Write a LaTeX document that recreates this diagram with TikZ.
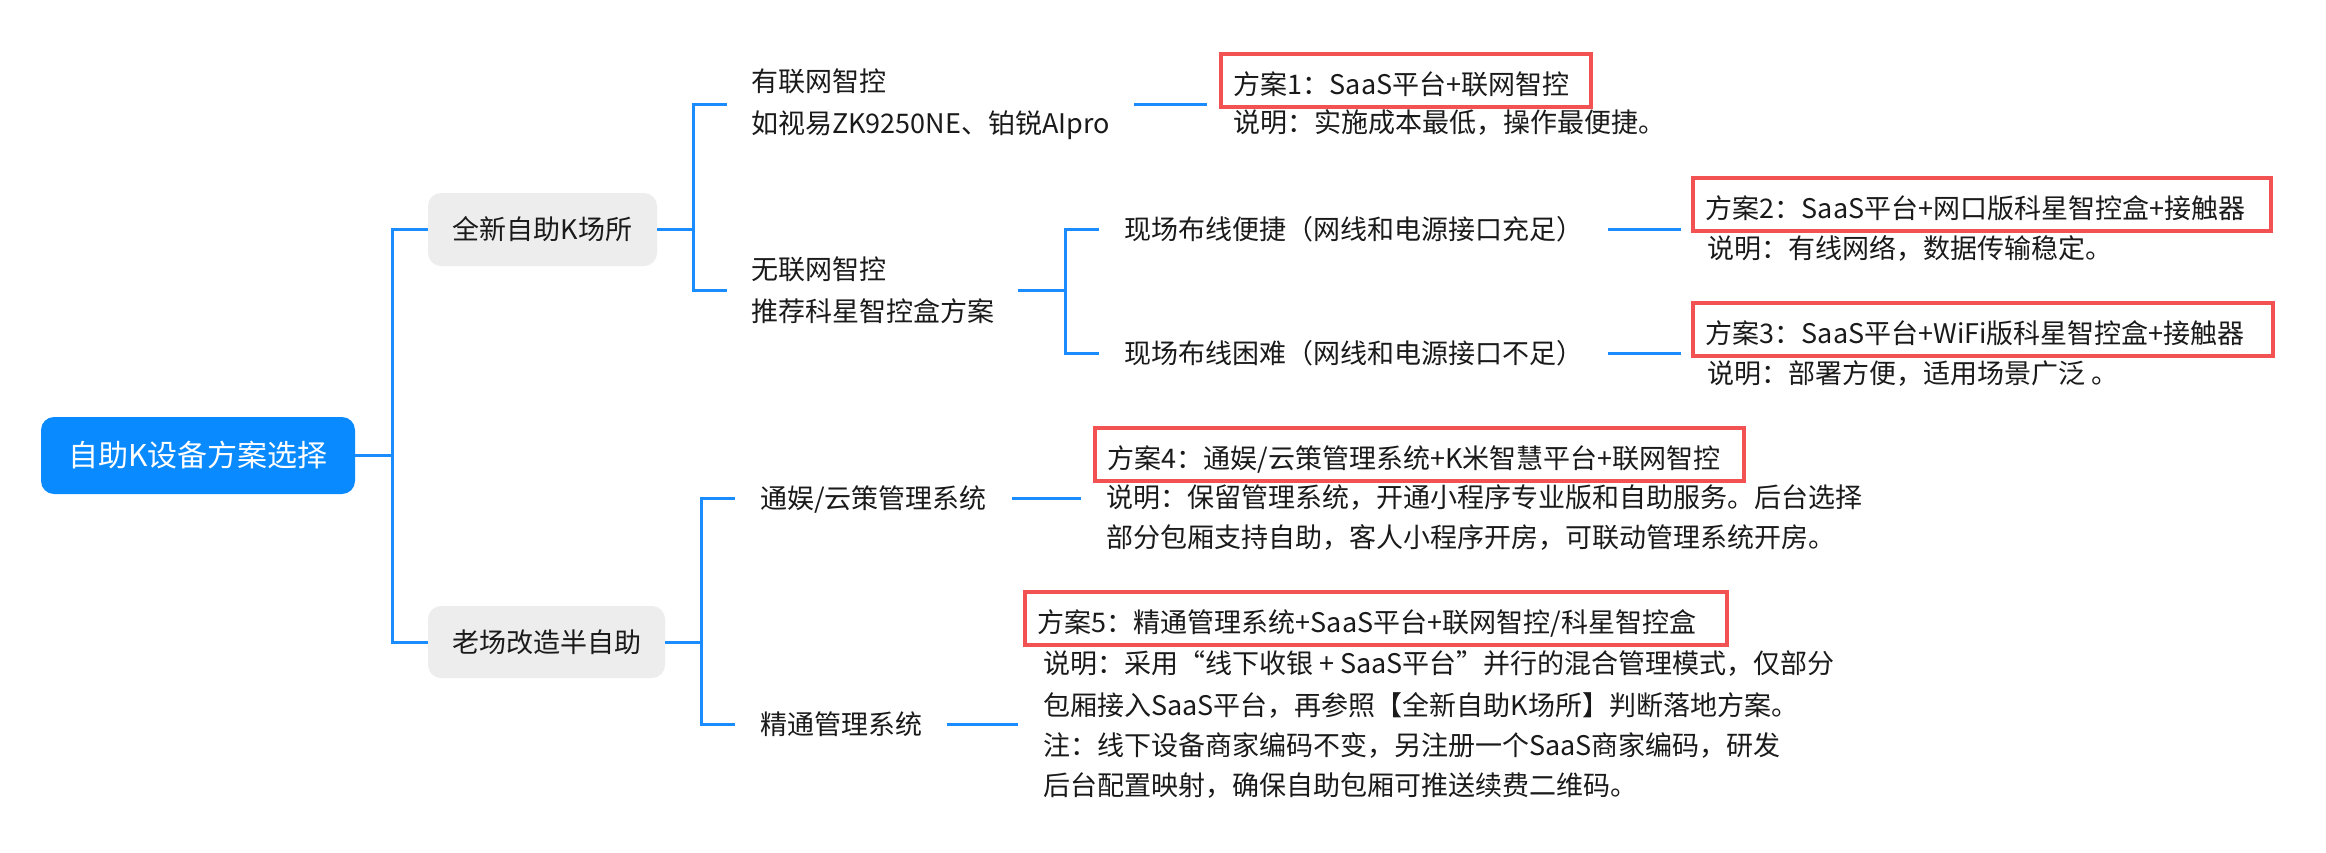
\documentclass[tikz,border=0pt]{standalone}
\usepackage{fontspec}
\setmainfont{Noto Sans CJK SC}
\definecolor{rootblue}{HTML}{0A8AFF}
\definecolor{linkblue}{HTML}{1A8CFF}
\definecolor{boxgray}{HTML}{EDEDED}
\definecolor{boxred}{HTML}{F25252}
\definecolor{inkc}{HTML}{1A1A1A}
\begin{document}
\begin{tikzpicture}[x=1pt,y=-1pt,
  conn/.style={draw=linkblue,line width=3pt},
  rootnode/.style={fill=rootblue,rounded corners=13pt,text=white,font=\fontsize{30}{36}\selectfont,minimum width=314pt,minimum height=77pt,inner sep=0pt},
  topic/.style={fill=boxgray,rounded corners=13pt,text=inkc,font=\fontsize{27}{32}\selectfont,minimum height=73pt,inner sep=0pt},
  sub/.style={text=inkc,font=\fontsize{27}{42}\selectfont,align=left,anchor=west,inner xsep=24pt,inner ysep=0pt},
  one/.style={sub,inner xsep=25pt,text height=22.4pt,text depth=1.6pt},
  titlebox/.style={draw=boxred,line width=3.8pt,text=inkc,font=\fontsize{27}{32}\selectfont,anchor=north west,inner xsep=13pt,inner ysep=0pt,text height=41pt,text depth=12pt},
  desc/.style={text=inkc,font=\fontsize{27}{32}\selectfont,anchor=base west,inner sep=0pt},
]
\useasboundingbox[fill=white] (0,0) rectangle (2326,852);

% level 0 / 1
\node[rootnode] (root) at (198,455.5) {自助K设备方案选择};
\node[topic,minimum width=229pt] (qx) at (542.5,229.5) {全新自助K场所};
\node[topic,minimum width=237pt,minimum height=72pt] (lc) at (546.5,642) {老场改造半自助};

\coordinate (j0) at (392,455.5);
\coordinate (j1) at (693,229.5);
\coordinate (j2) at (1065,290);
\coordinate (j3) at (701,642);

% level 2 / 3
\node[sub] (yl) at (727,104) {有联网智控\\如视易ZK9250NE、铂锐AIpro};
\node[sub] (wl) at (727,290) {无联网智控\\推荐科星智控盒方案};
\node[one] (xb) at (1099,229) {现场布线便捷（网线和电源接口充足）};
\node[one] (xk) at (1099,353) {现场布线困难（网线和电源接口不足）};
\node[one] (ty) at (735,498) {通娱/云策管理系统};
\node[one] (jt) at (735,724) {精通管理系统};

% scheme attach points
\coordinate (c1) at (1207,104);
\coordinate (c2) at (1681,229);
\coordinate (c3) at (1681,353);
\coordinate (c4) at (1081,498);
\coordinate (c5) at (1018,724);

% schemes
\node[titlebox] (t1) at (1219,52) {\makebox[344pt][l]{方案1：SaaS平台+联网智控}};
\node[desc] (d1) at (1233,132) {说明：实施成本最低，操作最便捷。};

\node[titlebox] (t2) at (1691,176) {\makebox[552pt][l]{方案2：SaaS平台+网口版科星智控盒+接触器}};
\node[desc] (d2) at (1707,258) {说明：有线网络，数据传输稳定。};

\node[titlebox] (t3) at (1691,301) {\makebox[554pt][l]{方案3：SaaS平台+WiFi版科星智控盒+接触器}};
\node[desc] (d3) at (1707,383) {说明：部署方便，适用场景广泛 。};

\node[titlebox] (t4) at (1093,426) {\makebox[623pt][l]{方案4：通娱/云策管理系统+K米智慧平台+联网智控}};
\node[desc] (d4a) at (1106,507) {说明：保留管理系统，开通小程序专业版和自助服务。后台选择};
\node[desc] (d4b) at (1106,547) {部分包厢支持自助，客人小程序开房，可联动管理系统开房。};

\node[titlebox] (t5) at (1023,590) {\makebox[676pt][l]{方案5：精通管理系统+SaaS平台+联网智控/科星智控盒}};
\node[desc] (d5a) at (1043,673) {说明：采用“线下收银 + SaaS平台”并行的混合管理模式，仅部分};
\node[desc] (d5b) at (1043,715) {包厢接入SaaS平台，再参照【全新自助K场所】判断落地方案。};
\node[desc] (d5c) at (1043,755) {注：线下设备商家编码不变，另注册一个SaaS商家编码，研发};
\node[desc] (d5d) at (1043,795) {后台配置映射，确保自助包厢可推送续费二维码。};

% connectors
\draw[conn] (root.east) -- (j0);
\draw[conn] (j0) |- (qx.west);
\draw[conn] (j0) |- (lc.west);
\draw[conn] (qx.east) -- (j1);
\draw[conn] (j1) |- (yl.west);
\draw[conn] (j1) |- (wl.west);
\draw[conn] (wl.east) -- (j2);
\draw[conn] (j2) |- (xb.west);
\draw[conn] (j2) |- (xk.west);
\draw[conn] (lc.east) -- (j3);
\draw[conn] (j3) |- (ty.west);
\draw[conn] (j3) |- (jt.west);
\draw[conn] (yl.east) -- (c1);
\draw[conn] (xb.east) -- (c2);
\draw[conn] (xk.east) -- (c3);
\draw[conn] (ty.east) -- (c4);
\draw[conn] (jt.east) -- (c5);
\end{tikzpicture}
\end{document}
